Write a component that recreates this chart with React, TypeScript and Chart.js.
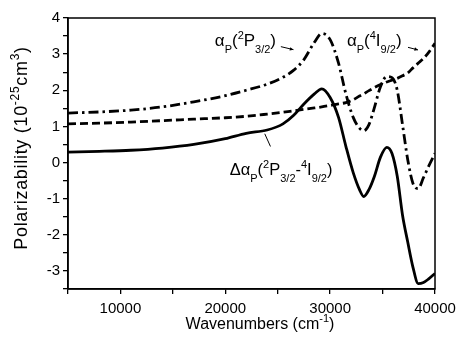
import React, { useEffect, useRef } from 'react';
import { Chart, registerables } from 'chart.js';

Chart.register(...registerables);

// Wavenumber grid (cm^-1)
const wavenumbers = [
  5000, 8000, 11000, 14000, 17000, 20000, 22000, 24000, 25500, 26500, 27500, 28500,
  29200, 30000, 30800, 31500, 32200, 32800, 33200, 33700, 34200, 34800, 35400, 35900,
  36400, 36900, 37400, 37900, 38400, 38900, 39400, 40000,
];

// alpha_P(2P3/2)  (dash-dot)
const alpha2P = [
  1.37, 1.40, 1.45, 1.54, 1.68, 1.85, 2.0, 2.17, 2.36, 2.55, 2.85, 3.33,
  3.57, 3.40, 2.75, 1.90, 1.25, 0.95, 0.88, 1.05, 1.50, 2.10, 2.38, 2.35,
  2.0, 1.05, 0.08, -0.58, -0.72, -0.42, -0.10, 0.25,
];

// alpha_P(4I9/2)  (dashed)
const alpha4I = [
  1.07, 1.09, 1.12, 1.16, 1.20, 1.24, 1.28, 1.34, 1.39, 1.43, 1.47, 1.51,
  1.54, 1.58, 1.62, 1.66, 1.74, 1.84, 1.90, 1.99, 2.07, 2.16, 2.23, 2.28,
  2.33, 2.40, 2.48, 2.62, 2.75, 2.88, 3.05, 3.30,
];

// Delta alpha_P(2P3/2 - 4I9/2)  (solid)
const deltaAlpha = [
  0.29, 0.31, 0.34, 0.40, 0.50, 0.66, 0.81, 0.90, 1.07, 1.30, 1.62, 1.90,
  2.04, 1.80, 1.25, 0.45, -0.28, -0.75, -0.94, -0.75, -0.40, 0.15, 0.42, 0.25,
  -0.38, -1.45, -2.20, -2.90, -3.35, -3.32, -3.22, -3.07,
];

const xMin = 5000;
const xMax = 40000;
const xStep = 5000;
const xLabelStep = 10000;
const yMin = -3.5;
const yMax = 4;
const yStep = 0.5;

const FAMILY = '"Liberation Sans", Arial, Helvetica, sans-serif';

type Seg = { t: string; m?: 'sub' | 'sup' };

function drawRich(
  ctx: CanvasRenderingContext2D,
  segs: Seg[],
  x: number,
  y: number,
  size: number,
  align: 'left' | 'center',
  spacing = 0,
) {
  const small = Math.round(size * 0.66);
  (ctx as any).letterSpacing = `${spacing}px`;
  const widths = segs.map((s) => {
    ctx.font = `${s.m ? small : size}px ${FAMILY}`;
    return ctx.measureText(s.t).width;
  });
  const total = widths.reduce((a, b) => a + b, 0);
  let cx = align === 'center' ? x - total / 2 : x;
  ctx.textAlign = 'left';
  ctx.textBaseline = 'alphabetic';
  segs.forEach((s, i) => {
    ctx.font = `${s.m ? small : size}px ${FAMILY}`;
    const dy = s.m === 'sub' ? size * 0.38 : s.m === 'sup' ? -size * 0.42 : 0;
    ctx.fillText(s.t, cx, y + dy);
    cx += widths[i];
  });
  (ctx as any).letterSpacing = '0px';
}

function arrow(ctx: CanvasRenderingContext2D, x1: number, y1: number, x2: number, y2: number, head: boolean) {
  ctx.beginPath();
  ctx.moveTo(x1, y1);
  ctx.lineTo(x2, y2);
  ctx.stroke();
  if (head) {
    const a = Math.atan2(y2 - y1, x2 - x1);
    const L = 4;
    ctx.beginPath();
    ctx.moveTo(x2, y2);
    ctx.lineTo(x2 - L * Math.cos(a - 0.45), y2 - L * Math.sin(a - 0.45));
    ctx.lineTo(x2 - L * Math.cos(a + 0.45), y2 - L * Math.sin(a + 0.45));
    ctx.closePath();
    ctx.fill();
  }
}

const decor = {
  id: 'decor',
  afterDraw(chart: any) {
    const { ctx, chartArea, scales } = chart;
    const xs = scales.x;
    const ys = scales.y;
    const px = (v: number) => xs.getPixelForValue(v);
    const py = (v: number) => ys.getPixelForValue(v);
    ctx.save();
    ctx.strokeStyle = '#000';
    ctx.fillStyle = '#000';
    ctx.lineWidth = 1.5;
    ctx.strokeRect(chartArea.left, chartArea.top, chartArea.right - chartArea.left, chartArea.bottom - chartArea.top);

    // axis titles
    drawRich(ctx, [{ t: 'Wavenumbers (cm' }, { t: '-1', m: 'sup' }, { t: ')' }], 260, 329, 16, 'center');
    ctx.save();
    ctx.translate(27, 148);
    ctx.rotate(-Math.PI / 2);
    drawRich(
      ctx,
      [{ t: 'Polarizability (10' }, { t: '-25', m: 'sup' }, { t: 'cm' }, { t: '3', m: 'sup' }, { t: ')' }],
      0,
      0,
      18,
      'center',
      0.7,
    );
    ctx.restore();

    // annotations
    drawRich(
      ctx,
      [{ t: 'α' }, { t: 'P', m: 'sub' }, { t: '(' }, { t: '2', m: 'sup' }, { t: 'P' }, { t: '3/2', m: 'sub' }, { t: ')' }],
      px(19000),
      py(3.22),
      17,
      'left',
    );
    drawRich(
      ctx,
      [{ t: 'α' }, { t: 'P', m: 'sub' }, { t: '(' }, { t: '4', m: 'sup' }, { t: 'I' }, { t: '9/2', m: 'sub' }, { t: ')' }],
      px(31600),
      py(3.22),
      17,
      'left',
    );
    drawRich(
      ctx,
      [
        { t: 'Δα' }, { t: 'P', m: 'sub' }, { t: '(' }, { t: '2', m: 'sup' }, { t: 'P' }, { t: '3/2', m: 'sub' },
        { t: '-' }, { t: '4', m: 'sup' }, { t: 'I' }, { t: '9/2', m: 'sub' }, { t: ')' },
      ],
      px(20420),
      py(-0.356),
      16.5,
      'left',
    );
    ctx.lineWidth = 1;
    arrow(ctx, px(25300), py(3.207), px(26500), py(3.124), true);
    arrow(ctx, px(37426), py(3.188), px(38381), py(3.116), true);
    arrow(ctx, px(24309), py(0.445), px(23764), py(0.796), false);
    ctx.restore();
  },
};

export default function App() {
  const ref = useRef<HTMLCanvasElement | null>(null);
  useEffect(() => {
    if (!ref.current) return;
    const mk = (arr: number[]) => wavenumbers.map((w, i) => ({ x: w, y: arr[i] }));
    const common = {
      borderColor: '#000',
      borderWidth: 2.8,
      pointRadius: 0,
      fill: false,
      cubicInterpolationMode: 'monotone' as const,
    };
    const chart = new Chart(ref.current, {
      type: 'line',
      data: {
        datasets: [
          { ...common, label: 'αP(2P3/2)', data: mk(alpha2P), borderDash: [10, 4, 2.5, 4] },
          { ...common, label: 'αP(4I9/2)', data: mk(alpha4I), borderDash: [8, 4] },
          { ...common, label: 'ΔαP(2P3/2-4I9/2)', data: mk(deltaAlpha) },
        ],
      },
      options: {
        responsive: false,
        animation: false,
        devicePixelRatio: 1,
        layout: { padding: { top: 18, right: 21, left: 0, bottom: 0 } },
        plugins: { legend: { display: false }, tooltip: { enabled: false } },
        font: { family: FAMILY, size: 15 },
        scales: {
          x: {
            type: 'linear',
            min: xMin,
            max: xMax,
            afterFit: (s: any) => { s.height = 52; s.paddingRight = 0; s.paddingLeft = 0; },
            ticks: {
              stepSize: xStep,
              autoSkip: false,
              maxRotation: 0,
              padding: 6,
              color: '#000',
              font: { family: FAMILY, size: 15 },
              callback: (v: any) => (Number(v) % xLabelStep === 0 ? String(v) : ''),
            },
            grid: { drawOnChartArea: false, drawTicks: true, tickLength: 5, color: '#000', lineWidth: 1.3 },
            border: { display: true, color: '#000', width: 1.5 },
          },
          y: {
            type: 'linear',
            min: yMin,
            max: yMax,
            afterFit: (s: any) => { s.width = 68; s.paddingTop = 0; s.paddingBottom = 0; },
            ticks: {
              stepSize: yStep,
              autoSkip: false,
              padding: 3,
              color: '#000',
              font: { family: FAMILY, size: 15 },
              callback: (v: any) => (Number.isInteger(Number(v)) ? String(v) : ''),
            },
            grid: { drawOnChartArea: false, drawTicks: true, tickLength: 5, color: '#000', lineWidth: 1.3 },
            border: { display: true, color: '#000', width: 1.5 },
          },
        },
      },
      plugins: [decor],
    });
    return () => chart.destroy();
  }, []);
  return (
    <div style={{ position: 'absolute', left: 0, top: 0, width: 456, height: 341, background: '#fff' }}>
      <canvas ref={ref} width={456} height={341} style={{ display: 'block' }} />
    </div>
  );
}
